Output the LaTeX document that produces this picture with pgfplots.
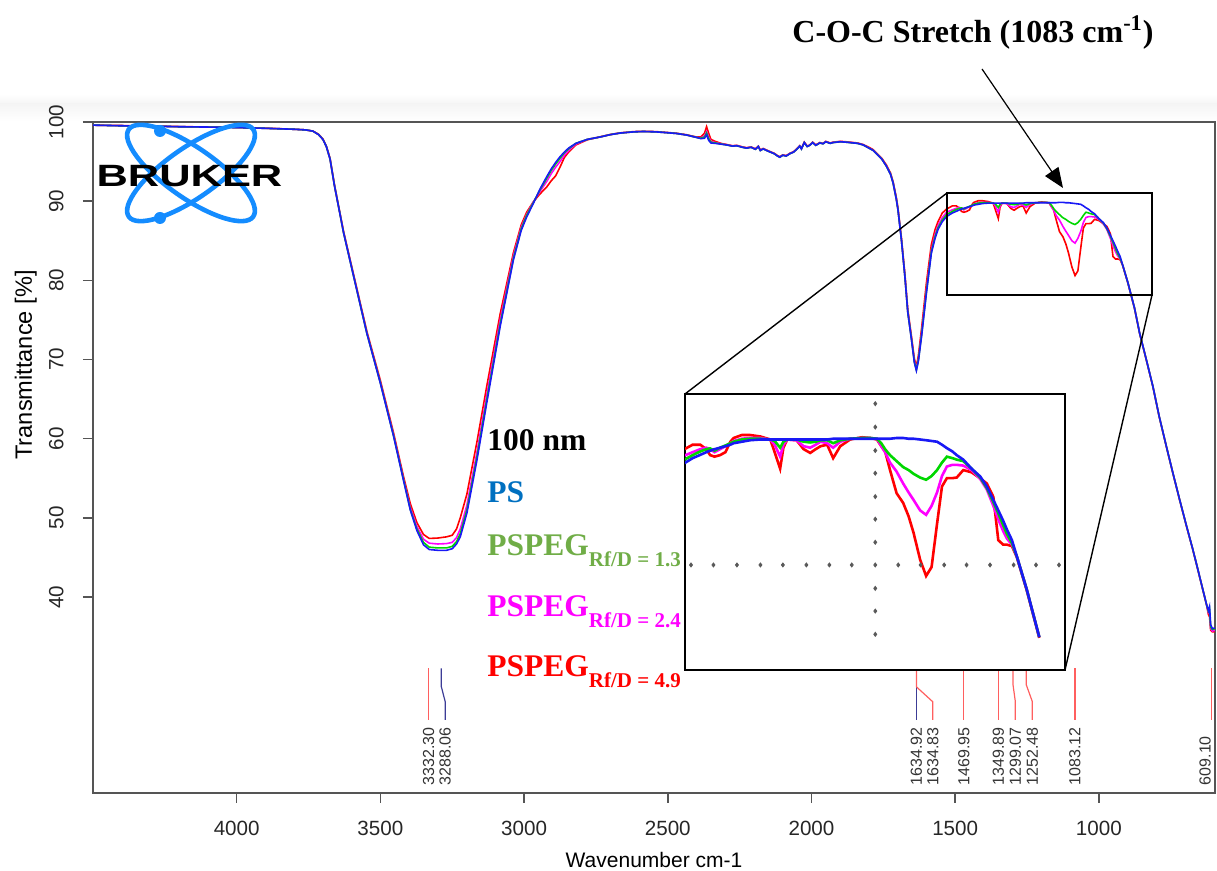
\documentclass[border=0pt]{standalone}
\usepackage{pgfplots}
\pgfplotsset{compat=1.18}
\usepackage{pgfplotstable}
\usepackage{fontspec}
\setmainfont{Liberation Sans}
\newfontfamily\timesfont{Liberation Serif}
\usetikzlibrary{arrows.meta}

\definecolor{cPS}{RGB}{25,25,245}
\definecolor{cG}{RGB}{0,215,0}
\definecolor{cM}{RGB}{255,0,255}
\definecolor{cR}{RGB}{255,0,0}
\definecolor{tPS}{RGB}{0,112,192}
\definecolor{tG}{RGB}{112,173,71}
\definecolor{axisgray}{RGB}{85,85,85}
\definecolor{peakred}{RGB}{255,95,95}
\definecolor{peakblue}{RGB}{60,60,150}
\definecolor{brukerblue}{RGB}{20,140,255}

% FTIR transmittance spectra: wavenumber (cm-1), PS, PSPEG 1.3, PSPEG 2.4, PSPEG 4.9
\pgfplotstableread{
wn    ps     g      m      r
4500  99.60  99.60  99.60  99.60
4400  99.52  99.52  99.52  99.55
4300  99.48  99.48  99.48  99.50
4200  99.40  99.40  99.40  99.42
4100  99.36  99.36  99.36  99.36
4000  99.30  99.30  99.30  99.30
3900  99.20  99.20  99.20  99.22
3800  99.08  99.08  99.08  99.08
3760  99.00  99.00  99.00  99.00
3735  98.85  98.85  98.85  98.85
3715  98.40  98.40  98.40  98.45
3700  97.80  97.80  97.80  97.85
3688  96.90  96.90  96.90  96.95
3675  95.30  95.30  95.30  95.40
3660  92.00  92.00  92.00  92.10
3645  89.20  89.20  89.20  89.30
3628  86.00  86.00  86.05  86.15
3593  80.50  80.50  80.55  80.70
3547  73.30  73.30  73.35  73.55
3500  67.00  67.05  67.10  67.35
3454  60.30  60.35  60.45  60.70
3420  54.80  54.90  55.00  55.30
3396  51.00  51.10  51.30  51.80
3373  48.40  48.60  48.90  49.40
3350  46.60  46.90  47.30  47.90
3330  46.00  46.30  46.80  47.40
3300  45.90  46.20  46.70  47.45
3270  45.90  46.20  46.75  47.60
3250  46.10  46.40  46.90  47.80
3235  46.70  47.00  47.50  48.60
3222  47.60  48.00  48.60  50.00
3199  50.60  51.00  51.60  53.00
3164  57.30  57.70  58.30  59.60
3130  64.50  64.90  65.50  66.60
3083  74.20  74.50  75.00  75.80
3037  82.60  82.80  83.10  83.50
3010  86.30  86.50  86.70  87.00
2991  88.00  88.20  88.30  88.60
2968  89.70  89.80  89.90  89.90
2945  91.50  91.40  91.20  90.90
2921  93.10  92.90  92.50  91.80
2905  94.10  93.90  93.50  92.60
2890  94.90  94.70  94.30  93.20
2875  95.60  95.40  95.00  94.30
2860  96.20  96.10  95.80  95.50
2845  96.70  96.60  96.40  96.20
2820  97.30  97.30  97.20  97.10
2780  97.80  97.80  97.80  97.75
2736  98.10  98.10  98.10  98.12
2700  98.40  98.40  98.40  98.42
2666  98.60  98.60  98.60  98.62
2620  98.75  98.75  98.75  98.78
2585  98.80  98.80  98.80  98.82
2540  98.75  98.75  98.75  98.78
2504  98.65  98.65  98.65  98.68
2470  98.55  98.55  98.55  98.58
2434  98.35  98.35  98.35  98.38
2400  98.05  98.05  98.05  98.10
2385  97.90  97.95  98.00  98.10
2372  97.95  98.10  98.25  98.60
2365  98.40  98.60  98.80  99.40
2358  97.70  97.90  98.10  98.60
2350  97.35  97.45  97.55  97.80
2335  97.30  97.35  97.40  97.55
2315  97.20  97.22  97.25  97.30
2295  97.10  97.10  97.12  97.15
2275  96.95  96.95  96.97  97.00
2260  97.00  97.00  97.02  97.05
2240  96.80  96.80  96.82  96.85
2226  96.70  96.70  96.72  96.75
2210  96.80  96.80  96.82  96.85
2195  96.55  96.55  96.57  96.60
2185  96.90  96.90  96.92  96.95
2178  96.40  96.40  96.42  96.45
2168  96.60  96.60  96.62  96.65
2150  96.30  96.30  96.32  96.35
2130  96.00  96.00  96.02  96.05
2118  95.70  95.70  95.72  95.75
2110  95.55  95.55  95.57  95.60
2100  95.80  95.80  95.82  95.85
2088  95.70  95.70  95.72  95.75
2075  96.00  96.00  96.02  96.05
2062  96.20  96.20  96.22  96.25
2050  96.60  96.60  96.62  96.65
2041  96.95  96.95  96.97  97.00
2035  96.60  96.60  96.62  96.65
2025  97.40  97.40  97.42  97.45
2015  96.90  96.90  96.92  96.95
2006  97.05  97.05  97.07  97.10
1996  97.40  97.40  97.42  97.45
1985  97.05  97.05  97.07  97.10
1971  97.35  97.35  97.37  97.40
1960  97.25  97.25  97.27  97.30
1950  97.50  97.50  97.52  97.55
1935  97.30  97.30  97.32  97.35
1925  97.40  97.40  97.42  97.45
1900  97.50  97.50  97.52  97.55
1880  97.45  97.45  97.47  97.50
1867  97.40  97.40  97.42  97.45
1840  97.30  97.30  97.32  97.35
1820  97.10  97.10  97.12  97.15
1800  96.70  96.70  96.72  96.80
1785  96.40  96.40  96.42  96.50
1774  96.00  96.00  96.02  96.10
1755  95.30  95.30  95.32  95.40
1739  94.40  94.40  94.42  94.55
1725  93.40  93.40  93.42  93.55
1716  92.30  92.30  92.32  92.45
1705  90.30  90.30  90.32  90.50
1699  88.90  88.90  88.92  89.10
1687  85.10  85.10  85.12  85.35
1675  80.50  80.50  80.55  80.80
1665  76.00  76.00  76.05  76.35
1652  72.50  72.55  72.60  72.90
1642  69.60  69.70  69.80  70.10
1635  68.60  68.70  68.80  69.10
1628  69.80  69.95  70.10  70.50
1617  72.90  73.10  73.30  73.90
1600  78.40  78.60  78.90  79.70
1583  83.40  83.60  83.80  84.50
1570  85.30  85.50  85.80  86.40
1560  86.40  86.60  86.90  87.40
1545  87.40  87.60  87.90  88.50
1530  88.05  88.30  88.60  89.00
1510  88.50  88.70  88.90  89.40
1496  88.72  88.95  89.10  89.40
1485  88.90  89.10  89.20  89.10
1478  89.00  89.15  89.10  88.70
1470  89.10  89.00  88.90  88.60
1460  89.20  89.20  89.10  88.70
1450  89.30  89.35  89.30  88.90
1441  89.40  89.50  89.50  89.60
1435  89.50  89.60  89.65  89.85
1420  89.60  89.75  89.80  90.05
1405  89.70  89.80  89.85  90.05
1386  89.75  89.80  89.85  89.95
1368  89.75  89.75  89.75  89.75
1360  89.75  89.65  89.40  88.90
1350  89.75  89.20  88.60  87.80
1344  89.75  89.60  89.40  89.20
1337  89.75  89.75  89.75  89.75
1320  89.75  89.75  89.70  89.70
1307  89.75  89.60  89.30  89.10
1295  89.75  89.55  89.20  88.85
1285  89.75  89.60  89.40  89.10
1276  89.75  89.70  89.60  89.30
1264  89.75  89.70  89.50  89.40
1253  89.80  89.50  89.20  88.50
1240  89.80  89.70  89.60  89.30
1222  89.80  89.80  89.80  89.75
1200  89.80  89.85  89.85  89.90
1185  89.80  89.85  89.85  89.85
1173  89.80  89.80  89.80  89.75
1165  89.80  89.50  89.30  89.30
1158  89.80  89.10  88.90  88.95
1149  89.80  88.70  88.20  87.70
1137  89.85  88.30  87.60  86.15
1125  89.85  87.90  86.80  85.50
1115  89.80  87.70  86.20  84.60
1106  89.80  87.45  85.70  83.50
1094  89.75  87.20  85.00  81.70
1083  89.70  87.05  84.70  80.60
1073  89.65  87.30  85.30  81.20
1063  89.60  87.70  86.20  84.10
1054  89.40  88.20  87.30  86.60
1045  89.17  88.60  87.94  87.16
1035  88.95  88.50  88.05  87.16
1027  88.70  88.40  88.05  87.20
1015  88.40  88.30  88.00  87.70
1000  87.80  87.80  87.70  87.55
984   87.27  87.20  87.10  87.15
972   86.60  86.50  86.40  86.80
960   85.70  85.55  85.30  85.90
951   85.00  84.80  84.40  83.00
942   84.30  84.00  83.60  82.70
935   83.70  83.40  83.10  82.70
926   83.00  82.80  82.70  82.60
917   81.90  81.90  81.90  81.85
899   79.70  79.70  79.70  79.65
876   76.50  76.50  76.50  76.45
858   73.30  73.30  73.30  73.25
835   70.00  70.00  70.00  69.95
812   66.60  66.60  66.60  66.55
790   62.80  62.80  62.80  62.75
765   59.00  59.00  59.00  58.95
742   55.60  55.60  55.60  55.55
719   52.30  52.30  52.30  52.25
696   49.10  49.10  49.10  49.05
673   46.00  46.00  46.00  45.95
655   43.40  43.40  43.40  43.35
638   40.90  40.90  40.90  40.85
625   39.00  39.00  39.00  38.95
619   38.30  38.20  38.00  37.80
615   38.80  38.50  38.00  37.50
611   36.50  36.20  36.00  35.80
605   36.00  35.90  35.70  35.60
597   36.10  36.00  35.80  35.60
}\spectra

\newcommand\pspeg[1]{PSPEG\raisebox{-5.3pt}{\fontsize{10.5}{11}\selectfont Rf/D = #1}}

\begin{document}
\begin{tikzpicture}
\path[use as bounding box] (0pt,0pt) rectangle (608.5pt,435.5pt);

% annotation layer in pixel units, origin top-left, y downwards
\tikzset{px/.style={shift={(0pt,435.5pt)}, x=0.5pt, y=-0.5pt}}

% soft header band above the plot frame
\begin{scope}[px]
\shade[top color=white,bottom color=black!4] (0,94) rectangle (1217,104);
\shade[top color=black!4,bottom color=white] (0,104) rectangle (1217,121);
\end{scope}

\begin{axis}[
  at={(46.5pt,39pt)}, anchor=south west,
  width=561pt, height=335.5pt, scale only axis,
  x dir=reverse,
  xmin=596, xmax=4500, ymin=15.25, ymax=100,
  xtick={1000,1500,2000,2500,3000,3500,4000},
  ytick={40,50,60,70,80,90,100},
  tick pos=left, tick align=outside,
  major tick length=5pt,
  axis line style={draw=axisgray, line width=0.8pt},
  every tick/.style={draw=axisgray, line width=0.8pt},
  /pgf/number format/assume math mode=true,
  /pgf/number format/1000 sep={},
  ticklabel style={font=\fontsize{10.3}{12}\selectfont, text=black!85, inner sep=0pt},
  yticklabel style={rotate=90, anchor=south},
  xticklabel style={anchor=north},
  xticklabel shift=9pt, yticklabel shift=9.5pt,
]
\addplot[cR, line width=0.8pt] table[x=wn,y=r]{\spectra};
\addplot[cM, line width=0.8pt] table[x=wn,y=m]{\spectra};
\addplot[cG, line width=0.8pt] table[x=wn,y=g]{\spectra};
\addplot[cPS, line width=0.8pt] table[x=wn,y=ps]{\spectra};

% peak picking markers
\addplot[peakred, line width=0.6pt] coordinates {(3332.30,31.0) (3332.30,24.5)};
\addplot[peakblue, line width=0.6pt] coordinates {(3288.06,31.0) (3288.06,28.7) (3274.6,26.8) (3274.6,24.5)};
\addplot[peakblue, line width=0.6pt] coordinates {(1634.92,31.0) (1634.92,24.5)};
\addplot[peakred, line width=0.6pt] coordinates {(1634.83,31.0) (1634.83,28.66) (1578,26.77) (1578,24.5)};
\addplot[peakred, line width=0.6pt] coordinates {(1469.95,31.0) (1469.95,24.5)};
\addplot[peakred, line width=0.6pt] coordinates {(1349.89,31.0) (1349.89,24.5)};
\addplot[peakred, line width=0.6pt] coordinates {(1299.07,31.0) (1299.07,29.0) (1290.7,26.8) (1290.7,24.5)};
\addplot[peakred, line width=0.6pt] coordinates {(1252.48,31.0) (1252.48,28.9) (1231.6,26.8) (1231.6,24.5)};
\addplot[peakred, line width=0.6pt] coordinates {(1083.12,31.0) (1083.12,24.5)};
\addplot[peakred, line width=0.6pt] coordinates {(609.10,31.0) (609.10,24.5)};

\begin{scope}[every node/.style={rotate=90, anchor=west, inner sep=0pt,
    font=\fontsize{8}{9}\selectfont, text=black!80}]
\node at (axis cs:3332.30,16.2) {3332.30};
\node at (axis cs:3274.6,16.2) {3288.06};
\node at (axis cs:1634.92,16.2) {1634.92};
\node at (axis cs:1578,16.2) {1634.83};
\node at (axis cs:1469.95,16.2) {1469.95};
\node at (axis cs:1349.89,16.2) {1349.89};
\node at (axis cs:1290.7,16.2) {1299.07};
\node at (axis cs:1231.6,16.2) {1252.48};
\node at (axis cs:1083.12,16.2) {1083.12};
\node at (axis cs:630,16.2) {609.10};
\end{scope}
\end{axis}

\begin{scope}[px]
% Bruker logo
\begin{scope}[brukerblue, line width=2.3pt]
  \draw[rotate around={35:(191,173)}] (191,173) ellipse [x radius=76, y radius=25];
  \draw[rotate around={-35:(191,173)}] (191,173) ellipse [x radius=76, y radius=25];
  \fill (160,131) circle [radius=6];
  \fill (160,218) circle [radius=6];
\end{scope}
\node[inner sep=0pt] at (189.5,176) {\scalebox{1.41}[1]{\fontsize{15.4}{15.4}\selectfont\bfseries BRUKER}};

% zoom window and its connectors
\draw[black, line width=1pt] (947,193) rectangle (1152,295);
\draw[black, line width=0.7pt] (947,193) -- (685,394);
\draw[black, line width=0.7pt] (1152,295) -- (1065,670);
\end{scope}

% magnified view of the 1530-830 cm-1 window
\begin{axis}[
  at={(342.5pt,100.5pt)}, anchor=south west,
  width=190pt, height=138pt, scale only axis,
  x dir=reverse, xmin=829, xmax=1524, ymin=74.3, ymax=92.8,
  xtick=\empty, ytick=\empty,
  axis line style={draw=black, line width=1pt},
  axis background/.style={fill=white},
]
\addplot[black!65, only marks, mark=diamond*, mark size=1pt] coordinates {
  (1176,92.15) (1176,90.58) (1176,89.01) (1176,87.49) (1176,85.92) (1176,84.41)
  (1176,82.86) (1176,81.34) (1176,79.77) (1176,78.25) (1176,76.69)
  (1513,81.34) (1472,81.34) (1429,81.34) (1386,81.34) (1345,81.34) (1302,81.34)
  (1260,81.34) (1219,81.34) (1134,81.34) (1093,81.34) (1050,81.34) (1009,81.34)
  (966,81.34) (923,81.34) (882,81.34) (840,81.34)};
\addplot[cR, line width=1.3pt, restrict x to domain=876:1530] table[x=wn,y=r]{\spectra};
\addplot[cM, line width=1.3pt, restrict x to domain=876:1530] table[x=wn,y=m]{\spectra};
\addplot[cG, line width=1.3pt, restrict x to domain=876:1530] table[x=wn,y=g]{\spectra};
\addplot[cPS, line width=1.3pt, restrict x to domain=876:1530] table[x=wn,y=ps]{\spectra};
\end{axis}

\begin{scope}[px]
% sample key
\begin{scope}[every node/.style={anchor=base west, inner sep=0pt}]
\node at (487,451) {\timesfont\bfseries\fontsize{15.75}{16}\selectfont 100 nm};
\node[text=tPS] at (487,503) {\timesfont\bfseries\fontsize{15.75}{16}\selectfont PS};
\node[text=tG] at (487,556) {\timesfont\bfseries\fontsize{15.75}{16}\selectfont \pspeg{1.3}};
\node[text=cM] at (487,617) {\timesfont\bfseries\fontsize{15.75}{16}\selectfont \pspeg{2.4}};
\node[text=cR] at (487,677) {\timesfont\bfseries\fontsize{15.75}{16}\selectfont \pspeg{4.9}};
\end{scope}

% band annotation
\node[anchor=base, inner sep=0pt] at (973,43) {\timesfont\bfseries\fontsize{16}{16}\selectfont C-O-C Stretch (1083 cm\textsuperscript{-1})};
\draw[line width=0.6pt, -{Triangle[length=10pt,width=8pt]}] (982,69) -- (1063,188);

% axis titles
\node[rotate=90, anchor=base, inner sep=0pt] at (32,365) {\fontsize{11.8}{13}\selectfont Transmittance [\%]};
\node[anchor=base, inner sep=0pt] at (654,868) {\fontsize{10.5}{12}\selectfont Wavenumber cm-1};
\end{scope}
\end{tikzpicture}
\end{document}
